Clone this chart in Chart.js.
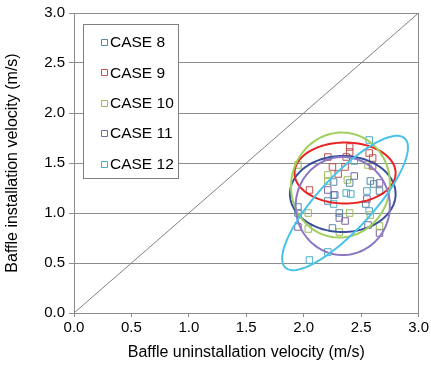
<!DOCTYPE html>
<html>
<head>
<meta charset="utf-8">
<script src="https://cdn.jsdelivr.net/npm/chart.js@4/dist/chart.umd.min.js"></script>
<style>
  html, body { margin: 0; padding: 0; background: #fff; }
  #wrap { width: 431px; height: 370px; }
</style>
</head>
<body>
<div id="wrap"><canvas id="chart" width="431" height="370"></canvas></div>
<script>
const caseNames = ['CASE 8', 'CASE 9', 'CASE 10', 'CASE 11', 'CASE 12'];
const pointColors = ['#5b88a8', '#c0504d', '#9bbb59', '#8064a2', '#4bacc6'];
const ellipseColors = ['#3a4f9c', '#e8231f', '#9fd05a', '#8b78c4', '#49c2ea'];

// uninstallation (x) / installation (y) velocity, per case
const case8X  = [2.21, 2.26, 2.40, 2.58, 2.61, 2.66, 1.95, 1.95, 2.31, 2.54, 2.25];
const case8Y  = [1.12, 1.31, 1.30, 1.32, 1.29, 1.22, 1.06, 1.00, 1.00, 1.09, 0.85];
const case9X  = [2.40, 2.40, 2.21, 2.37, 2.57, 2.60, 2.25, 2.36, 2.60, 2.30, 2.05];
const case9Y  = [1.66, 1.61, 1.56, 1.56, 1.60, 1.55, 1.46, 1.46, 1.47, 1.39, 1.23];
const case10X = [1.95, 2.21, 2.21, 2.56, 2.04, 2.31, 2.66, 2.04, 2.38, 2.40, 2.58];
const case10Y = [1.48, 1.38, 1.32, 1.48, 1.00, 0.81, 0.87, 0.84, 1.33, 1.00, 0.98];
const case11X = [2.44, 2.66, 2.55, 1.95, 2.36, 2.56, 2.66, 2.27, 2.31, 2.21];
const case11Y = [1.37, 1.30, 1.14, 0.86, 0.92, 0.88, 0.80, 1.18, 0.95, 1.23];
const case12X = [2.05, 2.21, 2.26, 2.37, 2.41, 2.55, 2.44, 2.57, 2.57, 2.26];
const case12Y = [0.53, 0.61, 1.09, 1.20, 1.19, 1.22, 1.52, 1.73, 1.02, 1.18];

// spread ellipses (centre, half axes, tilt in degrees), per case
const ellipseCx = [2.34, 2.36, 2.32, 2.34, 2.36];
const ellipseCy = [1.19, 1.40, 1.28, 1.07, 1.10];
const ellipseRx = [0.46, 0.44, 0.43, 0.41, 0.83];
const ellipseRy = [0.38, 0.305, 0.525, 0.49, 0.25];
const ellipseTilt = [0, 0, -4, 0, 52];

const axisTicks = [0, 0.5, 1, 1.5, 2, 2.5, 3];
const diagonal = [0, 3];

const xs = [case8X, case9X, case10X, case11X, case12X];
const ys = [case8Y, case9Y, case10Y, case11Y, case12Y];

function toPoints(xArr, yArr) {
    return xArr.map((x, i) => ({ x: x, y: yArr[i] }));
}

const datasets = caseNames.map((name, i) => ({
    label: name,
    data: toPoints(xs[i], ys[i]),
    showLine: false,
    pointStyle: 'rect',
    pointRadius: 4.6,
    pointHoverRadius: 4.6,
    borderWidth: 1,
    borderColor: pointColors[i],
    backgroundColor: 'rgba(0,0,0,0)'
}));

datasets.push({
    label: 'diagonal',
    data: toPoints(diagonal, diagonal),
    showLine: true,
    pointRadius: 0,
    borderWidth: 1,
    borderColor: '#808080'
});

const ellipsePlugin = {
    id: 'ellipses',
    afterDatasetsDraw(chart) {
        const ctx = chart.ctx;
        const sx = chart.scales.x, sy = chart.scales.y;
        ctx.save();
        ctx.lineWidth = 2;
        for (let i = 0; i < ellipseCx.length; i++) {
            const th = ellipseTilt[i] * Math.PI / 180;
            ctx.strokeStyle = ellipseColors[i];
            ctx.beginPath();
            for (let k = 0; k <= 120; k++) {
                const t = k / 120 * 2 * Math.PI;
                const ex = ellipseRx[i] * Math.cos(t), ey = ellipseRy[i] * Math.sin(t);
                const x = ellipseCx[i] + ex * Math.cos(th) - ey * Math.sin(th);
                const y = ellipseCy[i] + ex * Math.sin(th) + ey * Math.cos(th);
                const px = sx.getPixelForValue(x), py = sy.getPixelForValue(y);
                if (k === 0) ctx.moveTo(px, py); else ctx.lineTo(px, py);
            }
            ctx.closePath();
            ctx.stroke();
        }
        ctx.restore();
    }
};

// boxed legend sitting inside the plot, top left
const legendPlugin = {
    id: 'boxLegend',
    afterDraw(chart) {
        const ctx = chart.ctx;
        ctx.save();
        ctx.fillStyle = '#fff';
        ctx.strokeStyle = '#7f7f7f';
        ctx.lineWidth = 1;
        ctx.fillRect(83.5, 24.5, 95, 154);
        ctx.strokeRect(83.5, 24.5, 95, 154);
        ctx.font = '15.5px "Liberation Sans", Arial, sans-serif';
        ctx.textBaseline = 'middle';
        for (let i = 0; i < caseNames.length; i++) {
            const y = 43 + i * 30.4;
            ctx.strokeStyle = pointColors[i];
            ctx.beginPath();
            ctx.rect(101.5, Math.round(y) - 3.5, 6, 6);
            ctx.stroke();
            ctx.fillStyle = '#000';
            ctx.fillText(caseNames[i], 110, y);
        }
        ctx.restore();
    }
};

const tickFont = { family: '"Liberation Sans", Arial, sans-serif', size: 15 };
const titleFont = { family: '"Liberation Sans", Arial, sans-serif', size: 16 };

new Chart(document.getElementById('chart'), {
    type: 'scatter',
    data: { datasets: datasets },
    plugins: [ellipsePlugin, legendPlugin],
    options: {
        responsive: false,
        animation: false,
        layout: { padding: { top: 13, right: 10, left: 0, bottom: 0 } },
        plugins: { legend: { display: false }, tooltip: { enabled: false } },
        scales: {
            x: {
                type: 'linear',
                min: 0, max: 3,
                afterBuildTicks: (scale) => { scale.ticks = axisTicks.map(v => ({ value: v })); },
                afterFit: (scale) => { scale.height = 57; },
                border: { color: '#8c8c8c', width: 1 },
                grid: {
                    color: (c) => c.tick && c.tick.value === 3 ? '#8c8c8c' : 'rgba(0,0,0,0)',
                    tickColor: '#8c8c8c',
                    tickLength: 4
                },
                ticks: {
                    font: tickFont, color: '#000', padding: 2, maxRotation: 0,
                    callback: (v) => Number(v).toFixed(1)
                },
                title: {
                    display: true,
                    text: 'Baffle uninstallation velocity (m/s)',
                    font: titleFont, color: '#000',
                    padding: { top: 6, bottom: 8 }
                }
            },
            y: {
                type: 'linear',
                min: 0, max: 3,
                afterBuildTicks: (scale) => { scale.ticks = axisTicks.map(v => ({ value: v })); },
                afterFit: (scale) => { scale.width = 74; },
                border: { color: '#8c8c8c', width: 1 },
                grid: { color: '#8c8c8c', tickColor: '#8c8c8c', tickLength: 5 },
                ticks: {
                    font: tickFont, color: '#000', padding: 4,
                    callback: (v) => Number(v).toFixed(1)
                },
                title: {
                    display: true,
                    text: 'Baffle installation velocity (m/s)',
                    font: titleFont, color: '#000',
                    padding: { top: 3, bottom: 6 }
                }
            }
        }
    }
});
</script>
</body>
</html>
